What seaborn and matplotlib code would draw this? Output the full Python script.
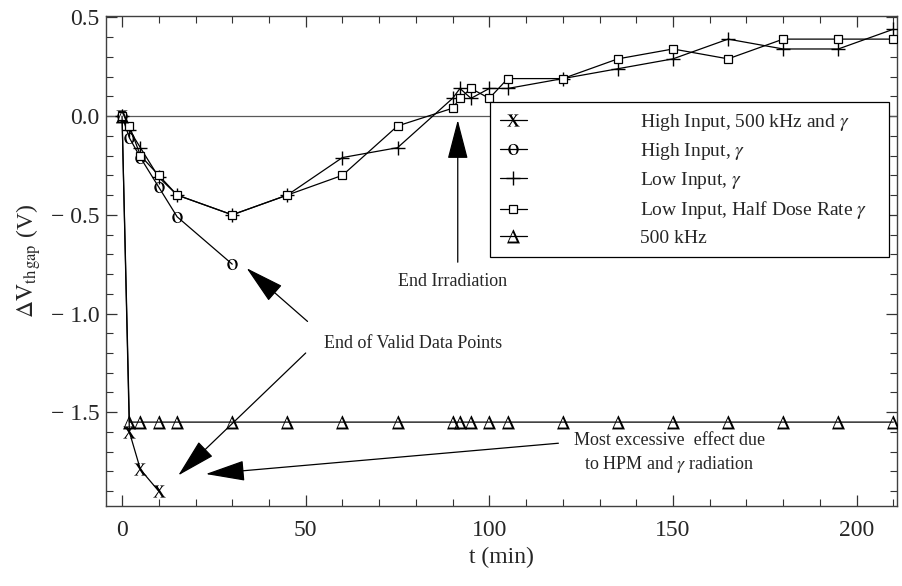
import matplotlib
matplotlib.use("Agg")
import matplotlib.pyplot as plt
import pandas as pd
import seaborn as sns
from matplotlib.ticker import MultipleLocator, FuncFormatter

# ---- measured threshold-voltage shift vs. time ----
# High Input, 500 kHz and gamma
t_hi_rf = [0, 2, 5, 10]
v_hi_rf = [0.0, -1.60, -1.79, -1.90]

# High Input, gamma
t_hi = [0, 2, 5, 10, 15, 30]
v_hi = [0.0, -0.11, -0.21, -0.36, -0.51, -0.75]

# Low Input, gamma
t_lo = [0, 2, 5, 10, 15, 30, 45, 60, 75, 90, 92, 95, 100, 105,
        120, 135, 150, 165, 180, 195, 210]
v_lo = [0.0, -0.07, -0.16, -0.31, -0.40, -0.50, -0.40, -0.21, -0.16, 0.09, 0.14,
        0.09, 0.14, 0.14, 0.19, 0.24, 0.29, 0.39, 0.34, 0.34, 0.44]

# Low Input, Half Dose Rate gamma
t_half = [0, 2, 5, 10, 15, 30, 45, 60, 75, 90, 92, 95, 100, 105,
          120, 135, 150, 165, 180, 195, 210]
v_half = [0.0, -0.05, -0.20, -0.30, -0.40, -0.50, -0.40, -0.30, -0.05, 0.04, 0.09,
          0.14, 0.09, 0.19, 0.19, 0.29, 0.34, 0.29, 0.39, 0.39, 0.39]

# 500 kHz only
t_rf = [0, 2, 5, 10, 15, 30, 45, 60, 75, 90, 92, 95, 100, 105,
        120, 135, 150, 165, 180, 195, 210]
v_rf = [0.0, -1.55, -1.55, -1.55, -1.55, -1.55, -1.55, -1.55, -1.55, -1.55, -1.55,
        -1.55, -1.55, -1.55, -1.55, -1.55, -1.55, -1.55, -1.55, -1.55, -1.55]

series_labels = [
    r"High Input, 500 kHz and $\gamma$",
    r"High Input, $\gamma$",
    r"Low Input, $\gamma$",
    r"Low Input, Half Dose Rate $\gamma$",
    "500 kHz",
]

sns.set_style("ticks")
plt.rcParams["font.family"] = ["Liberation Serif", "DejaVu Serif"]
plt.rcParams["mathtext.fontset"] = "stix"

fig = plt.figure(figsize=(9.02, 5.86), dpi=100)
ax = fig.add_axes([0.118, 0.1365, 0.8765, 0.8355])

ax.axhline(0.0, color="0.35", lw=0.9, zorder=1)

styles = [
    (t_hi_rf, v_hi_rf, dict(marker=r"$\mathrm{x}$", ms=9, mfc="black", mec="black", mew=0.0)),
    (t_hi, v_hi, dict(marker=r"$\mathrm{o}$", ms=8, mfc="black", mec="black", mew=0.0)),
    (t_lo, v_lo, dict(marker="+", ms=10, mec="black", mew=1.0)),
    (t_half, v_half, dict(marker="s", ms=5.8, mfc="white", mec="black", mew=0.9)),
    (t_rf, v_rf, dict(marker=r"$\Delta$", ms=10, mfc="black", mec="black", mew=0.0)),
]

for (t, v, kw), lab in zip(styles, series_labels):
    df = pd.DataFrame({"t": t, "v": v})
    sns.lineplot(data=df, x="t", y="v", ax=ax, color="black", lw=0.9,
                 label=lab, zorder=3, **kw)

ax.set_xlim(-4.25, 211)
ax.set_ylim(-1.975, 0.505)
ax.xaxis.set_major_locator(MultipleLocator(50))
ax.xaxis.set_minor_locator(MultipleLocator(10))
ax.yaxis.set_major_locator(MultipleLocator(0.5))
ax.yaxis.set_minor_locator(MultipleLocator(0.1))


def volt_fmt(val, pos):
    if val < -1e-9:
        return "\u2212 %.1f" % abs(val)
    return "%.1f" % abs(val)


ax.yaxis.set_major_formatter(FuncFormatter(volt_fmt))

ax.tick_params(which="both", direction="in", top=True, right=True, color="0.2")
ax.tick_params(which="major", length=8, width=0.9, labelsize=17)
ax.tick_params(which="minor", length=5, width=0.8)
ax.tick_params(axis="x", which="major", pad=10)
ax.tick_params(axis="y", which="major", pad=5)
for s in ax.spines.values():
    s.set_color("0.25")
    s.set_linewidth(1.0)

ax.set_xlabel("t (min)", fontsize=17, labelpad=4)
ax.set_ylabel(r"$\Delta\mathrm{V}_{\mathrm{th\,gap}}$ (V)", fontsize=17, labelpad=6)

leg = ax.legend(loc="upper left", bbox_to_anchor=(0.485, 0.540, 0.505, 0.285),
                mode="expand", fontsize=14, frameon=True, fancybox=False,
                framealpha=1.0, edgecolor="black", handlelength=1.4,
                handletextpad=5.8, labelspacing=0.42, borderpad=0.5,
                borderaxespad=0.0)
leg.get_frame().set_linewidth(0.9)
leg.set_zorder(5)

head = dict(arrowstyle="-|>,head_length=2.5,head_width=0.65", color="black",
            lw=0.9, shrinkA=0, shrinkB=0, mutation_scale=10)

# End of irradiation marker
ax.annotate("", xy=(91.4, -0.02), xytext=(91.4, -0.74), arrowprops=head)
ax.text(90.1, -0.84, "End Irradiation", fontsize=13, ha="center", va="center")

# End of valid data points
ax.annotate("", xy=(33.9, -0.77), xytext=(50.5, -1.04), arrowprops=head)
ax.annotate("", xy=(15.3, -1.82), xytext=(50.0, -1.20), arrowprops=head)
ax.text(79.2, -1.153, "End of Valid Data Points", fontsize=13, ha="center", va="center")

# Combined HPM + gamma effect
ax.annotate("", xy=(22.8, -1.813), xytext=(118.8, -1.657), arrowprops=head)
ax.text(149.0, -1.71, "Most excessive  effect due\n" r"to HPM and $\gamma$ radiation",
        fontsize=13, ha="center", va="center", linespacing=1.35)

fig.savefig("out.png", dpi=100)
